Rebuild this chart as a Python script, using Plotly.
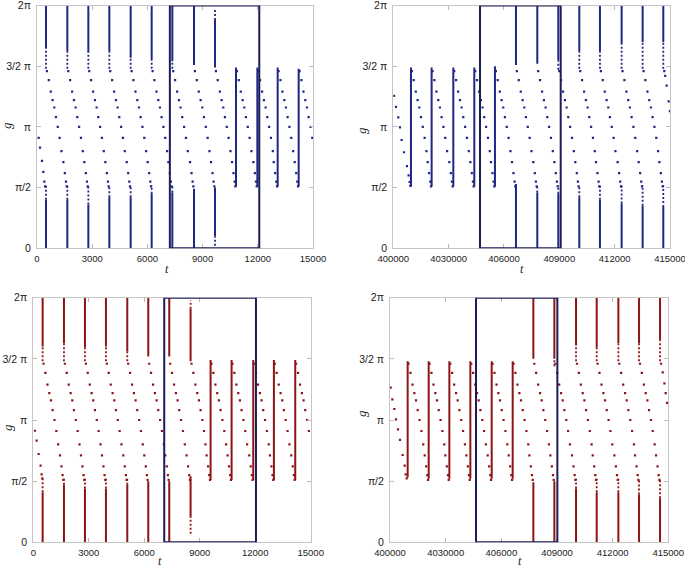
import plotly.graph_objects as go

W, H = 685, 569
BLUE = "#1f2685"
RED = "#8e1414"
BOXC = "#1c1c5a"

g_ticks = [0, 0.5, 1, 1.5, 2]
g_labels = ["0", "π/2", "π", "3/2 π", "2π"]
left_xticks = [0, 3000, 6000, 9000, 12000, 15000]
left_xlabels = ["0", "3000", "6000", "9000", "12000", "15000"]
right_xticks = [400000, 403000, 406000, 409000, 412000, 415000]
right_xlabels = ["400000", "4030000", "406000", "409000", "412000", "415000"]

# ---------------- top-left (blue) ----------------
tl_dot_t = [
    91, 163, 272, 344, 399, 435,
    539, 639, 749, 849, 939, 1029, 1129, 1229, 1329, 1434, 1514, 1574, 1614,
    1699, 1799, 1909, 2009, 2099, 2189, 2289, 2389, 2489, 2575, 2655, 2715, 2755,
    2840, 2940, 3050, 3150, 3240, 3330, 3430, 3530, 3630, 3716, 3796, 3856, 3896,
    3981, 4081, 4191, 4291, 4381, 4471, 4571, 4671, 4771, 4876, 4956, 5016, 5056,
    5141, 5241, 5351, 5451, 5541, 5631, 5731, 5831, 5931, 6017, 6097, 6157, 6197,
    6282, 6382, 6492, 6592, 6682, 6772, 6872, 6972, 7072, 7140, 7220, 7280, 7320,
    7405, 7505, 7615, 7715, 7805, 7895, 7995, 8095, 8195, 8318, 8398, 8458, 8498,
    8583, 8683, 8793, 8893, 8983, 9073, 9173, 9273, 9373, 9459, 9539, 9599, 9639,
    9724, 9824, 9934, 10034, 10124, 10214, 10314, 10414, 10514, 10600, 10680, 10740, 10780,
    10865, 10965, 11075, 11175, 11265, 11355, 11455, 11555, 11655, 11760, 11840, 11900, 11940,
    12025, 12125, 12235, 12335, 12425, 12515, 12615, 12715, 12815, 12865, 12945, 13005, 13045,
    13130, 13230, 13340, 13440, 13530, 13620, 13720, 13820, 13920, 14006, 14086, 14146, 14186,
    14271, 14371, 14481, 14581, 14671, 14761, 14861, 14961,
]
tl_dot_g = [
    0.91, 0.83, 0.72, 0.63, 0.55, 0.51,
    1.46, 1.385, 1.29, 1.22, 1.16, 1.08, 1.00, 0.91, 0.80, 0.71, 0.62, 0.55, 0.51,
    1.46, 1.385, 1.29, 1.22, 1.16, 1.08, 1.00, 0.91, 0.80, 0.71, 0.62, 0.55, 0.51,
    1.46, 1.385, 1.29, 1.22, 1.16, 1.08, 1.00, 0.91, 0.80, 0.71, 0.62, 0.55, 0.51,
    1.46, 1.385, 1.29, 1.22, 1.16, 1.08, 1.00, 0.91, 0.80, 0.71, 0.62, 0.55, 0.51,
    1.46, 1.385, 1.29, 1.22, 1.16, 1.08, 1.00, 0.91, 0.80, 0.71, 0.62, 0.55, 0.51,
    1.46, 1.385, 1.29, 1.22, 1.16, 1.08, 1.00, 0.91, 0.80, 0.71, 0.62, 0.55, 0.51,
    1.46, 1.385, 1.29, 1.22, 1.16, 1.08, 1.00, 0.91, 0.80, 0.71, 0.62, 0.55, 0.51,
    1.46, 1.385, 1.29, 1.22, 1.16, 1.08, 1.00, 0.91, 0.80, 0.71, 0.62, 0.55, 0.51,
    1.46, 1.385, 1.29, 1.22, 1.16, 1.08, 1.00, 0.91, 0.80, 0.71, 0.62, 0.55, 0.51,
    1.46, 1.385, 1.29, 1.22, 1.16, 1.08, 1.00, 0.91, 0.80, 0.71, 0.62, 0.55, 0.51,
    1.46, 1.385, 1.29, 1.22, 1.16, 1.08, 1.00, 0.91, 0.80, 0.71, 0.62, 0.55, 0.51,
    1.46, 1.385, 1.29, 1.22, 1.16, 1.08, 1.00, 0.91, 0.80, 0.71, 0.62, 0.55, 0.51,
    1.46, 1.385, 1.29, 1.22, 1.16, 1.08, 1.00, 0.91,
]
tl_seg_t = [489, 489, 1649, 1649, 2790, 2790, 3931, 3931, 5091, 5091, 6232, 6232,
            7355, 7355, 8533, 8533, 9674, 9674, 10815, 11975, 13080, 14221]
tl_seg_lo = [0, 1.65, 0, 1.62, 0, 1.61, 0, 1.62, 0, 1.57, 0, 1.56,
             0, 1.54, 0, 1.51, 0.10, 1.49, 0.51, 0.51, 0.51, 0.51]
tl_seg_hi = [0.40, 2, 0.40, 2, 0.36, 2, 0.42, 2, 0.42, 2, 0.45, 2,
             0.46, 2, 0.49, 2, 0.50, 1.88, 1.49, 1.49, 1.49, 1.48]
tl_tail_t = [489, 489, 1649, 1649, 2790, 2790, 3931, 3931, 5091, 5091, 6232, 6232, 7355, 7355, 9674, 9674]
tl_tail_lo = [0.40, 1.48, 0.40, 1.48, 0.36, 1.48, 0.42, 1.48, 0.42, 1.48, 0.45, 1.48, 0.46, 1.48, 0.02, 1.88]
tl_tail_hi = [0.52, 1.65, 0.52, 1.62, 0.52, 1.61, 0.52, 1.62, 0.52, 1.57, 0.52, 1.56, 0.52, 1.54, 0.10, 1.97]
tl_box = [7220, 12080]

# ---------------- top-right (blue) ----------------
tr_dot_t = [
    400036, 400145, 400271, 400361, 400452, 400578, 400741, 400831, 400885, 400925,
    401008, 401108, 401218, 401318, 401408, 401498, 401598, 401698, 401798, 401863, 401943, 402003, 402043,
    402128, 402228, 402338, 402438, 402528, 402618, 402718, 402818, 402918, 403038, 403118, 403178, 403218,
    403303, 403403, 403513, 403613, 403703, 403793, 403893, 403993, 404093, 404176, 404256, 404316, 404356,
    404441, 404541, 404651, 404751, 404841, 404931, 405031, 405131, 405231, 405296, 405376, 405436, 405476,
    405561, 405661, 405771, 405871, 405961, 406051, 406151, 406251, 406351, 406435, 406515, 406575, 406615,
    406700, 406800, 406910, 407010, 407100, 407190, 407290, 407390, 407490, 407591, 407671, 407731, 407771,
    407856, 407956, 408066, 408166, 408256, 408346, 408446, 408546, 408646, 408730, 408810, 408870, 408910,
    408995, 409095, 409205, 409305, 409395, 409485, 409585, 409685, 409785, 409868, 409948, 410008, 410048,
    410133, 410233, 410343, 410443, 410533, 410623, 410723, 410823, 410923, 410988, 411068, 411128, 411168,
    411253, 411353, 411463, 411563, 411653, 411743, 411843, 411943, 412043, 412163, 412243, 412303, 412343,
    412428, 412528, 412638, 412738, 412828, 412918, 413018, 413118, 413218, 413301, 413381, 413441, 413481,
    413566, 413666, 413776, 413876, 413966, 414056, 414156, 414256, 414356, 414422, 414502, 414562, 414602,
    414690, 414740, 414817, 414926, 414995,
]
tr_dot_g = [
    1.255, 1.165, 1.078, 0.996, 0.892, 0.791, 0.677, 0.600, 0.546, 0.515,
    1.46, 1.385, 1.29, 1.22, 1.16, 1.08, 1.00, 0.91, 0.80, 0.71, 0.62, 0.55, 0.51,
    1.46, 1.385, 1.29, 1.22, 1.16, 1.08, 1.00, 0.91, 0.80, 0.71, 0.62, 0.55, 0.51,
    1.46, 1.385, 1.29, 1.22, 1.16, 1.08, 1.00, 0.91, 0.80, 0.71, 0.62, 0.55, 0.51,
    1.46, 1.385, 1.29, 1.22, 1.16, 1.08, 1.00, 0.91, 0.80, 0.71, 0.62, 0.55, 0.51,
    1.46, 1.385, 1.29, 1.22, 1.16, 1.08, 1.00, 0.91, 0.80, 0.71, 0.62, 0.55, 0.51,
    1.46, 1.385, 1.29, 1.22, 1.16, 1.08, 1.00, 0.91, 0.80, 0.71, 0.62, 0.55, 0.51,
    1.46, 1.385, 1.29, 1.22, 1.16, 1.08, 1.00, 0.91, 0.80, 0.71, 0.62, 0.55, 0.51,
    1.46, 1.385, 1.29, 1.22, 1.16, 1.08, 1.00, 0.91, 0.80, 0.71, 0.62, 0.55, 0.51,
    1.46, 1.385, 1.29, 1.22, 1.16, 1.08, 1.00, 0.91, 0.80, 0.71, 0.62, 0.55, 0.51,
    1.46, 1.385, 1.29, 1.22, 1.16, 1.08, 1.00, 0.91, 0.80, 0.71, 0.62, 0.55, 0.51,
    1.46, 1.385, 1.29, 1.22, 1.16, 1.08, 1.00, 0.91, 0.80, 0.71, 0.62, 0.55, 0.51,
    1.46, 1.385, 1.29, 1.22, 1.16, 1.08, 1.00, 0.91, 0.80, 0.71, 0.62, 0.55, 0.51,
    1.46, 1.42, 1.34, 1.21, 1.13,
]
tr_seg_t = [400958, 402078, 403253, 404391, 405511,
            406650, 406650, 407806, 407806, 408945, 408945, 410083, 410083,
            411203, 411203, 412378, 412378, 413516, 413516, 414637, 414637]
tr_seg_lo = [0.51, 0.51, 0.51, 0.51, 0.51,
             0, 1.51, 0, 1.52, 0, 1.55, 0, 1.62, 0, 1.62, 0, 1.68, 0, 1.70, 0, 1.70]
tr_seg_hi = [1.49, 1.49, 1.49, 1.49, 1.50,
             0.53, 2, 0.46, 2, 0.45, 2, 0.42, 2, 0.40, 2, 0.37, 2, 0.35, 2, 0.34, 2]
tr_tail_t = [407806, 408945, 408945, 410083, 410083, 411203, 411203, 412378, 412378,
             413516, 413516, 414637, 414637]
tr_tail_lo = [0.46, 0.45, 1.47, 0.42, 1.48, 0.40, 1.48, 0.37, 1.48, 0.35, 1.48, 0.34, 1.48]
tr_tail_hi = [0.52, 0.52, 1.55, 0.52, 1.62, 0.52, 1.62, 0.52, 1.68, 0.52, 1.70, 0.52, 1.70]
tr_box = [404700, 409075]

# ---------------- bottom-left (red) ----------------
bl_dot_t = [
    90, 180, 288, 396, 450, 486,
    555, 655, 765, 865, 955, 1045, 1145, 1245, 1345, 1443, 1523, 1583, 1623,
    1708, 1808, 1918, 2018, 2108, 2198, 2298, 2398, 2498, 2578, 2658, 2718, 2758,
    2843, 2943, 3053, 3153, 3243, 3333, 3433, 3533, 3633, 3713, 3793, 3853, 3893,
    3978, 4078, 4188, 4288, 4378, 4468, 4568, 4668, 4768, 4867, 4947, 5007, 5047,
    5132, 5232, 5342, 5442, 5532, 5622, 5722, 5822, 5922, 6002, 6082, 6142, 6182,
    6267, 6367, 6477, 6577, 6667, 6757, 6857, 6957, 7057, 7137, 7217, 7277, 7317,
    7402, 7502, 7612, 7712, 7802, 7892, 7992, 8092, 8192, 8290, 8370, 8430, 8470,
    8555, 8655, 8765, 8865, 8955, 9045, 9140, 9230, 9310, 9372, 9452, 9512, 9552,
    9637, 9737, 9847, 9947, 10037, 10127, 10227, 10327, 10427, 10507, 10587, 10647, 10687,
    10772, 10872, 10982, 11082, 11172, 11262, 11362, 11462, 11562, 11678, 11758, 11818, 11858,
    11943, 12043, 12153, 12253, 12343, 12433, 12533, 12633, 12733, 12795, 12875, 12935, 12975,
    13060, 13160, 13270, 13370, 13460, 13550, 13650, 13750, 13850, 13949, 14029, 14089, 14129,
    14214, 14314, 14424, 14524, 14614, 14704, 14804, 14904,
]
bl_dot_g = [
    0.912, 0.831, 0.722, 0.627, 0.556, 0.523,
    1.46, 1.385, 1.29, 1.22, 1.16, 1.08, 1.00, 0.91, 0.80, 0.71, 0.62, 0.55, 0.51,
    1.46, 1.385, 1.29, 1.22, 1.16, 1.08, 1.00, 0.91, 0.80, 0.71, 0.62, 0.55, 0.51,
    1.46, 1.385, 1.29, 1.22, 1.16, 1.08, 1.00, 0.91, 0.80, 0.71, 0.62, 0.55, 0.51,
    1.46, 1.385, 1.29, 1.22, 1.16, 1.08, 1.00, 0.91, 0.80, 0.71, 0.62, 0.55, 0.51,
    1.46, 1.385, 1.29, 1.22, 1.16, 1.08, 1.00, 0.91, 0.80, 0.71, 0.62, 0.55, 0.51,
    1.46, 1.385, 1.29, 1.22, 1.16, 1.08, 1.00, 0.91, 0.80, 0.71, 0.62, 0.55, 0.51,
    1.46, 1.385, 1.29, 1.22, 1.16, 1.08, 1.00, 0.91, 0.80, 0.71, 0.62, 0.55, 0.51,
    1.46, 1.385, 1.29, 1.22, 1.16, 1.08, 1.00, 0.91, 0.80, 0.71, 0.62, 0.55, 0.51,
    1.46, 1.385, 1.29, 1.22, 1.16, 1.08, 1.00, 0.91, 0.80, 0.71, 0.62, 0.55, 0.51,
    1.46, 1.385, 1.29, 1.22, 1.16, 1.08, 1.00, 0.91, 0.80, 0.71, 0.62, 0.55, 0.51,
    1.46, 1.385, 1.29, 1.22, 1.16, 1.08, 1.00, 0.91, 0.80, 0.71, 0.62, 0.55, 0.51,
    1.46, 1.385, 1.29, 1.22, 1.16, 1.08, 1.00, 0.91, 0.80, 0.71, 0.62, 0.55, 0.51,
    1.46, 1.385, 1.29, 1.22, 1.16, 1.08, 1.00, 0.91,
]
bl_seg_t = [505, 505, 1658, 1658, 2793, 2793, 3928, 3928, 5082, 5082, 6217, 6217,
            7352, 7352, 8505, 8505, 9587, 10722, 11893, 13010, 14164]
bl_seg_lo = [0, 1.60, 0, 1.63, 0, 1.59, 0, 1.60, 0, 1.56, 0, 1.52,
             0, 1.52, 0.20, 1.48, 0.51, 0.51, 0.51, 0.51, 0.51]
bl_seg_hi = [0.41, 2, 0.47, 2, 0.44, 2, 0.44, 2, 0.47, 2, 0.50, 2,
             0.50, 2, 0.54, 1.91, 1.49, 1.49, 1.49, 1.49, 1.49]
bl_tail_t = [505, 505, 1658, 1658, 2793, 2793, 3928, 3928, 5082, 5082, 8505, 8505]
bl_tail_lo = [0.41, 1.48, 0.47, 1.48, 0.44, 1.48, 0.44, 1.48, 0.47, 1.48, 0.07, 1.91]
bl_tail_hi = [0.52, 1.60, 0.52, 1.63, 0.52, 1.59, 0.52, 1.60, 0.52, 1.56, 0.20, 1.98]
bl_box = [7080, 12040]

# ---------------- bottom-right (red) ----------------
br_dot_t = [
    400036, 400126, 400234, 400323, 400431, 400539, 400683, 400791, 400845, 400899,
    401002, 401102, 401212, 401312, 401402, 401492, 401592, 401692, 401792, 401870, 401950, 402010, 402050,
    402135, 402235, 402345, 402445, 402535, 402625, 402725, 402825, 402925, 402984, 403064, 403124, 403164,
    403249, 403349, 403459, 403559, 403649, 403739, 403839, 403939, 404039, 404116, 404196, 404256, 404296,
    404381, 404481, 404591, 404691, 404781, 404871, 404971, 405071, 405171, 405266, 405346, 405406, 405446,
    405531, 405631, 405741, 405841, 405931, 406021, 406121, 406221, 406321, 406398, 406478, 406538, 406578,
    406663, 406763, 406873, 406973, 407063, 407153, 407253, 407353, 407453, 407512, 407592, 407652, 407692,
    407777, 407877, 407987, 408087, 408177, 408267, 408367, 408467, 408567, 408644, 408724, 408784, 408824,
    408909, 409009, 409119, 409219, 409309, 409399, 409499, 409599, 409699, 409812, 409892, 409952, 409992,
    410077, 410177, 410287, 410387, 410477, 410567, 410667, 410767, 410867, 410926, 411006, 411066, 411106,
    411191, 411291, 411401, 411501, 411591, 411681, 411781, 411881, 411981, 412094, 412174, 412234, 412274,
    412359, 412459, 412569, 412669, 412759, 412849, 412949, 413049, 413149, 413208, 413288, 413348, 413388,
    413473, 413573, 413683, 413783, 413873, 413963, 414063, 414163, 414263, 414341, 414421, 414481, 414521,
    414610, 414700, 414790, 414860, 414930,
]
br_dot_g = [
    1.264, 1.169, 1.090, 1.005, 0.924, 0.837, 0.714, 0.627, 0.556, 0.523,
    1.46, 1.385, 1.29, 1.22, 1.16, 1.08, 1.00, 0.91, 0.80, 0.71, 0.62, 0.55, 0.51,
    1.46, 1.385, 1.29, 1.22, 1.16, 1.08, 1.00, 0.91, 0.80, 0.71, 0.62, 0.55, 0.51,
    1.46, 1.385, 1.29, 1.22, 1.16, 1.08, 1.00, 0.91, 0.80, 0.71, 0.62, 0.55, 0.51,
    1.46, 1.385, 1.29, 1.22, 1.16, 1.08, 1.00, 0.91, 0.80, 0.71, 0.62, 0.55, 0.51,
    1.46, 1.385, 1.29, 1.22, 1.16, 1.08, 1.00, 0.91, 0.80, 0.71, 0.62, 0.55, 0.51,
    1.46, 1.385, 1.29, 1.22, 1.16, 1.08, 1.00, 0.91, 0.80, 0.71, 0.62, 0.55, 0.51,
    1.46, 1.385, 1.29, 1.22, 1.16, 1.08, 1.00, 0.91, 0.80, 0.71, 0.62, 0.55, 0.51,
    1.46, 1.385, 1.29, 1.22, 1.16, 1.08, 1.00, 0.91, 0.80, 0.71, 0.62, 0.55, 0.51,
    1.46, 1.385, 1.29, 1.22, 1.16, 1.08, 1.00, 0.91, 0.80, 0.71, 0.62, 0.55, 0.51,
    1.46, 1.385, 1.29, 1.22, 1.16, 1.08, 1.00, 0.91, 0.80, 0.71, 0.62, 0.55, 0.51,
    1.46, 1.385, 1.29, 1.22, 1.16, 1.08, 1.00, 0.91, 0.80, 0.71, 0.62, 0.55, 0.51,
    1.46, 1.385, 1.29, 1.22, 1.16, 1.08, 1.00, 0.91, 0.80, 0.71, 0.62, 0.55, 0.51,
    1.46, 1.39, 1.30, 1.22, 1.14,
]
br_seg_t = [400952, 402085, 403199, 404331, 405481, 406613,
            407727, 407727, 408859, 408859, 410027, 410027, 411141, 411141,
            412309, 412309, 413423, 413423, 414556, 414556]
br_seg_lo = [0.53, 0.52, 0.52, 0.52, 0.52, 0.52,
             0, 1.50, 0, 1.50, 0, 1.61, 0, 1.59, 0, 1.63, 0, 1.63, 0, 1.65]
br_seg_hi = [1.48, 1.48, 1.48, 1.48, 1.48, 1.48,
             0.49, 2, 0.50, 2, 0.44, 2, 0.41, 2, 0.41, 2, 0.39, 2, 0.36, 2]
br_tail_t = [408859, 410027, 410027, 411141, 411141, 412309, 412309, 413423, 413423, 414556, 414556]
br_tail_lo = [1.44, 0.44, 1.48, 0.41, 1.48, 0.41, 1.48, 0.39, 1.48, 0.36, 1.48]
br_tail_hi = [1.50, 0.52, 1.61, 0.52, 1.59, 0.52, 1.63, 0.52, 1.63, 0.52, 1.65]
br_box = [404636, 409021]


def seg_xy(ts, los, his):
    xs, ys = [], []
    for t, lo, hi in zip(ts, los, his):
        xs += [t, t, None]
        ys += [lo, hi, None]
    return xs, ys


fig = go.Figure()

panels = [
    ("", (tl_dot_t, tl_dot_g, tl_seg_t, tl_seg_lo, tl_seg_hi, tl_tail_t, tl_tail_lo, tl_tail_hi),
     BLUE, tl_box, left_xticks, left_xlabels, (37, 313), (5.5, 248.3), (7, 126), (167, 269)),
    ("2", (tr_dot_t, tr_dot_g, tr_seg_t, tr_seg_lo, tr_seg_hi, tr_tail_t, tr_tail_lo, tr_tail_hi),
     BLUE, tr_box, right_xticks, right_xlabels, (393.3, 670), (5.5, 248.3), (361, 130), (522, 269)),
    ("3", (bl_dot_t, bl_dot_g, bl_seg_t, bl_seg_lo, bl_seg_hi, bl_tail_t, bl_tail_lo, bl_tail_hi),
     RED, bl_box, left_xticks, left_xlabels, (33.3, 310.7), (297.7, 542.3), (7, 428), (160, 561)),
    ("4", (br_dot_t, br_dot_g, br_seg_t, br_seg_lo, br_seg_hi, br_tail_t, br_tail_lo, br_tail_hi),
     RED, br_box, right_xticks, right_xlabels, (390, 668.3), (297.7, 542.3), (361, 413), (520, 561)),
]

annotations = []
shapes = []
for name, data, color, box, xt, xl, xpx, ypx, gpos, tpos in panels:
    dot_t, dot_g, sg_t, sg_lo, sg_hi, tl_t, tl_lo, tl_hi = data
    xa, ya = "x" + name, "y" + name
    sx, sy = seg_xy(sg_t, sg_lo, sg_hi)
    fig.add_trace(go.Scatter(x=sx, y=sy, mode="lines", xaxis=xa, yaxis=ya,
                             line=dict(color=color, width=2), hoverinfo="skip",
                             showlegend=False))
    tx, ty = seg_xy(tl_t, tl_lo, tl_hi)
    fig.add_trace(go.Scatter(x=tx, y=ty, mode="lines", xaxis=xa, yaxis=ya,
                             line=dict(color=color, width=1.8, dash="2px,2px"), hoverinfo="skip",
                             showlegend=False))
    fig.add_trace(go.Scatter(x=dot_t, y=dot_g, mode="markers", xaxis=xa, yaxis=ya,
                             marker=dict(color=color, size=2.2, symbol="square", line=dict(width=0)),
                             showlegend=False))
    axis_common = dict(showline=True, mirror="ticks", linecolor="#c4c4c4", linewidth=1,
                       ticks="inside", ticklen=4, tickcolor="#b8b8b8", showgrid=False,
                       zeroline=False, fixedrange=True, automargin=False,
                       ticklabeloverflow="allow")
    xkey = "xaxis" + name
    ykey = "yaxis" + name
    fig.update_layout(**{
        xkey: dict(domain=[xpx[0] / W, xpx[1] / W], anchor=ya, range=[xt[0], xt[-1]],
                   tickvals=xt, ticktext=xl, ticklabelstandoff=1,
                   tickfont=dict(family="Liberation Sans, Arial", size=9.5, color="#222"),
                   **axis_common),
        ykey: dict(domain=[1 - ypx[1] / H, 1 - ypx[0] / H], anchor=xa, range=[0, 2],
                   tickvals=g_ticks, ticktext=g_labels, ticklabelstandoff=3,
                   tickfont=dict(family="Liberation Sans, Arial", size=10.5, color="#222"),
                   **axis_common),
    })
    shapes.append(dict(type="rect", xref=xa, yref=ya, x0=box[0], x1=box[1], y0=0, y1=2,
                       line=dict(color=BOXC, width=2)))
    annotations.append(dict(text="<i>g</i>", x=gpos[0] / W, y=1 - gpos[1] / H, xref="paper",
                            yref="paper", showarrow=False, textangle=-90,
                            xanchor="center", yanchor="middle",
                            font=dict(family="Liberation Serif", size=13, color="#222")))
    annotations.append(dict(text="<i>t</i>", x=tpos[0] / W, y=1 - tpos[1] / H, xref="paper",
                            yref="paper", showarrow=False, xanchor="center", yanchor="middle",
                            font=dict(family="Liberation Serif", size=12, color="#222")))

fig.update_layout(template="none", width=W, height=H,
                  margin=dict(l=0, r=0, t=0, b=0, autoexpand=False),
                  paper_bgcolor="white", plot_bgcolor="white",
                  shapes=shapes, annotations=annotations, showlegend=False)

fig.write_html("out.html", config={"displayModeBar": False},
               post_script="document.body.style.margin='0';document.body.style.overflow='hidden';")
